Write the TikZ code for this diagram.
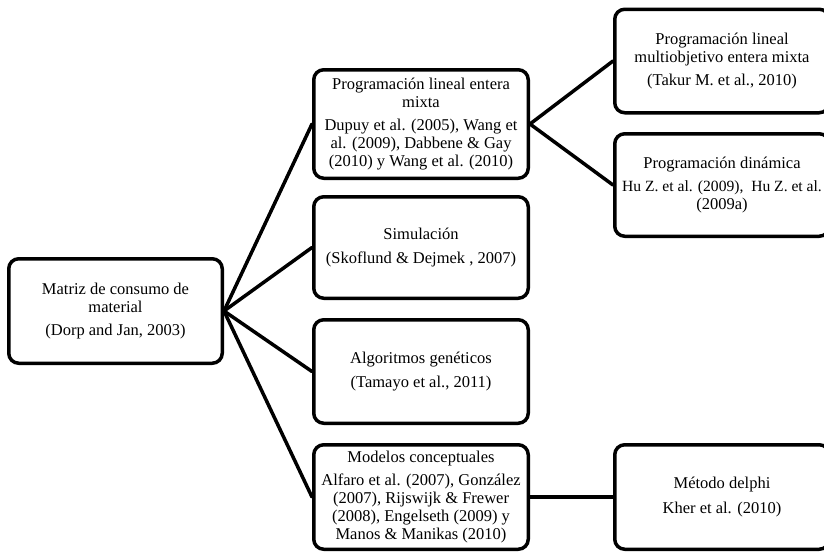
\documentclass[tikz,border=0pt]{standalone}
\usepackage{fontspec}
\setmainfont{Liberation Serif}
\begin{document}
\begin{tikzpicture}[x=1pt,y=-1pt,
  box/.style={draw=black, line width=3.5pt, rounded corners=10pt, minimum width=214.5pt,
    inner sep=0pt, align=center, font=\fontsize{16.5}{17.8}\selectfont},
  link/.style={line width=3.5pt, line cap=round}]
\useasboundingbox (0,0) rectangle (824,554);
\clip (0,0) rectangle (824,554);
\fill[white] (0,0) rectangle (824,554);

\node[box, minimum width=213.5pt, minimum height=104.5pt] (root) at (115.5,311)
  {Matriz de consumo de\\material\\[5.5pt](Dorp and Jan, 2003)};

\node[box, minimum height=108.5pt] (b1) at (421,124)
  {Programación lineal entera\\mixta\\[5pt]Dupuy et al. (2005), Wang et\\al. (2009), Dabbene \& Gay\\(2010) y Wang et al. (2010)};
\node[box, minimum height=101.5pt] (b2) at (421,247.5)
  {Simulación\\[7pt](Skoflund \& Dejmek , 2007)};
\node[box, minimum height=103.5pt] (b3) at (421,371.5)
  {Algoritmos genéticos\\[7pt](Tamayo et al., 2011)};
\node[box, minimum height=104.5pt] (b4) at (421,497)
  {Modelos conceptuales\\[5pt]Alfaro et al. (2007), González\\(2007), Rijswijk \& Frewer\\(2008), Engelseth (2009) y\\Manos \& Manikas (2010)};

\node[box, minimum height=103.5pt] (ra) at (722,61)
  {Programación lineal\\multiobjetivo entera mixta\\[5.5pt](Takur M. et al., 2010)};
\node[box, minimum height=102.5pt] (rb) at (722,185)
  {Programación dinámica\\[5.5pt]{\fontsize{15.6}{17.8}\selectfont Hu Z. et al. (2009),\ \ Hu Z. et al.}\\(2009a)};
\node[box, minimum height=104.5pt] (rc) at (722,497)
  {Método delphi\\[7pt]Kher et al. (2010)};

\foreach \t in {b1,b2,b3,b4} \draw[link] (root.east) -- (\t.west);
\draw[link] (b1.east) -- (ra.west);
\draw[link] (b1.east) -- (rb.west);
\draw[link] (b4.east) -- (rc.west);
\end{tikzpicture}
\end{document}
